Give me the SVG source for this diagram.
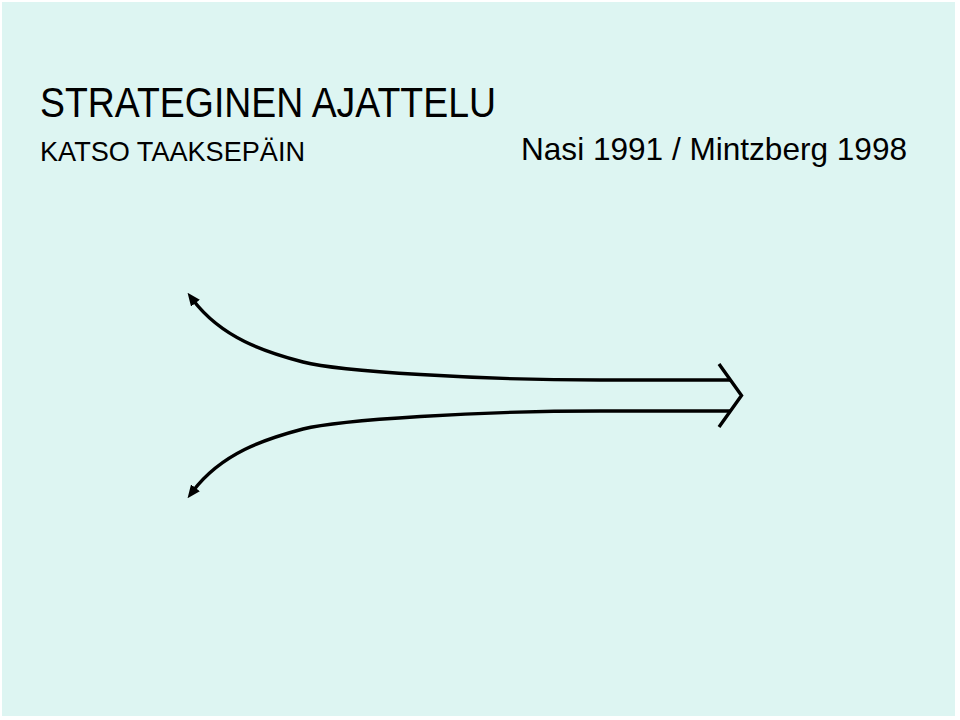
<svg xmlns="http://www.w3.org/2000/svg" width="960" height="720" viewBox="0 0 960 720">
  <style>
    .t { font-family: "Liberation Sans", Arial, sans-serif; fill: #000; }
    .ln { fill: none; stroke: #000; stroke-width: 3.4; }
  </style>
  <defs>
    <marker id="ah" markerUnits="userSpaceOnUse" markerWidth="13" markerHeight="11" refX="4" refY="5.5" orient="auto-start-reverse" viewBox="0 0 13 11">
      <path d="M0,0 L13,5.5 L0,11 z" fill="#000"/>
    </marker>
  </defs>
  <rect x="0" y="0" width="960" height="720" fill="#ffffff"/>
  <rect x="2" y="2" width="953" height="714" fill="#ddf5f2"/>
  <g id="title">
    <text class="t" x="40" y="117" font-size="42" textLength="456" lengthAdjust="spacingAndGlyphs">STRATEGINEN AJATTELU</text>
  </g>
  <g id="subtitle">
    <text class="t" x="40" y="161" font-size="28" textLength="265" lengthAdjust="spacingAndGlyphs">KATSO TAAKSEPÄIN</text>
  </g>
  <g id="source">
    <text class="t" x="521" y="160" font-size="30.5" textLength="386" lengthAdjust="spacingAndGlyphs">Nasi 1991 / Mintzberg 1998</text>
  </g>
  <g id="connectors">
    <path class="ln" marker-start="url(#ah)" d="M193,300 C222,338 265,352 303,362 C340,371.5 480,380 600,380 L730,380"/>
    <path class="ln" marker-start="url(#ah)" d="M193,491 C222,453 265,439 303,429 C340,419.5 480,411 600,411 L730,411"/>
    <polyline class="ln" points="719,364 741.5,395.5 719,427"/>
  </g>
</svg>
